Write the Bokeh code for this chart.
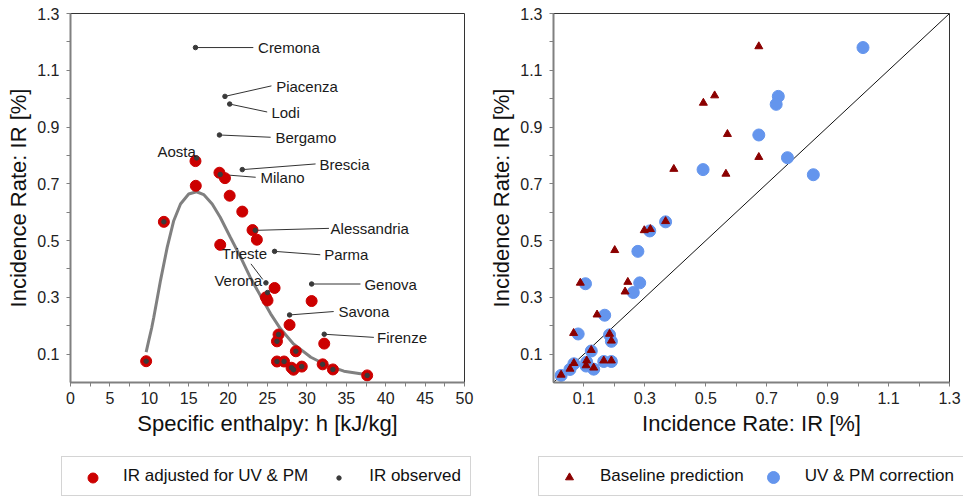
from bokeh.plotting import figure
from bokeh.models import FixedTicker, Legend, LegendItem, Range1d
from bokeh.layouts import row, column
from bokeh.embed import file_html
from bokeh.resources import INLINE
from bokeh.core.properties import value

FONT = "Liberation Sans"

# ---------------- Left panel data ----------------
adj_h = [15.86, 18.9, 19.6, 15.9, 20.2, 21.8, 11.85, 23.1, 23.65, 19.0, 25.9, 24.8, 25.0,
         30.6, 27.8, 32.2, 26.4, 26.2, 28.6, 26.2, 27.1, 28.05, 28.3, 29.35, 32.0, 33.3,
         37.65, 9.6]
adj_ir = [0.780, 0.739, 0.720, 0.693, 0.658, 0.602, 0.566, 0.537, 0.503, 0.485, 0.333, 0.300,
          0.289, 0.287, 0.203, 0.137, 0.169, 0.145, 0.110, 0.074, 0.074, 0.052, 0.045, 0.056,
          0.064, 0.046, 0.025, 0.075]

obs_h = [15.86, 19.6, 20.2, 18.9, 16.0, 21.8, 19.0, 23.45, 25.9, 24.8, 25.0, 30.6, 27.8, 32.2,
         11.85, 26.4, 26.2, 28.6, 26.2, 27.1, 28.05, 28.3, 29.35, 32.0, 33.3, 37.65, 9.6]
obs_ir = [1.180, 1.008, 0.981, 0.872, 0.791, 0.750, 0.733, 0.536, 0.462, 0.351, 0.317, 0.347,
          0.238, 0.170, 0.566, 0.169, 0.145, 0.110, 0.074, 0.074, 0.052, 0.045, 0.056, 0.064,
          0.046, 0.025, 0.075]

fit_h = [9.6, 9.95, 10.3, 10.57, 11.0, 11.42, 12.27, 13.1, 13.96, 15.0, 16.0, 16.9, 17.98,
         19.0, 20.3, 21.6, 22.8, 24.1, 25.4, 26.65, 28.3, 30.5, 32.6, 34.7, 37.65]
fit_ir = [0.107, 0.150, 0.192, 0.230, 0.295, 0.359, 0.476, 0.570, 0.629, 0.664, 0.672, 0.662,
          0.629, 0.582, 0.511, 0.441, 0.371, 0.306, 0.242, 0.189, 0.136, 0.089, 0.060, 0.040,
          0.027]

# city labels (text starts right of the leader line end)
city_names = ["Cremona", "Piacenza", "Lodi", "Bergamo", "Brescia", "Milano", "Alessandria",
              "Parma", "Genova", "Savona", "Firenze"]
city_dot_h = [15.86, 19.6, 20.2, 18.9, 21.8, 19.0, 23.45, 25.9, 30.6, 27.8, 32.2]
city_dot_ir = [1.180, 1.008, 0.981, 0.872, 0.750, 0.733, 0.536, 0.462, 0.347, 0.238, 0.170]
city_end_h = [23.2, 25.5, 24.96, 25.4, 31.1, 23.5, 32.8, 31.7, 36.8, 33.4, 38.5]
city_end_ir = [1.180, 1.045, 0.953, 0.864, 0.770, 0.723, 0.543, 0.450, 0.347, 0.250, 0.159]
city_text_h = [23.8, 26.1, 25.5, 26.0, 31.6, 24.1, 33.0, 32.2, 37.3, 34.0, 38.9]
city_text_ir = [1.180, 1.043, 0.950, 0.862, 0.767, 0.722, 0.543, 0.450, 0.347, 0.250, 0.159]

# labels placed to the left of their points (right-aligned)
rcity_names = ["Aosta", "Verona"]
rcity_text_h = [15.9, 24.3]
rcity_text_ir = [0.813, 0.359]
ltext_names = ["Trieste"]
ltext_h = [19.2]
ltext_ir = [0.453]
trieste_line_h = [22.9, 24.4]
trieste_line_ir = [0.418, 0.363]

# ---------------- Right panel data ----------------
base_x = [0.674, 0.492, 0.529, 0.571, 0.674, 0.395, 0.566, 0.368, 0.318, 0.298, 0.201, 0.244,
          0.235, 0.088, 0.143, 0.066, 0.184, 0.190, 0.124, 0.109, 0.107, 0.132, 0.165, 0.190,
          0.067, 0.054, 0.025]
base_y = [1.184, 0.985, 1.011, 0.875, 0.794, 0.752, 0.735, 0.568, 0.540, 0.536, 0.466, 0.354,
          0.320, 0.351, 0.239, 0.174, 0.171, 0.147, 0.114, 0.077, 0.060, 0.052, 0.077, 0.077,
          0.068, 0.048, 0.027]
corr_x = [1.016, 0.738, 0.731, 0.674, 0.768, 0.491, 0.853, 0.368, 0.316, 0.277, 0.283, 0.262,
          0.105, 0.168, 0.081, 0.184, 0.190, 0.124, 0.109, 0.107, 0.132, 0.165, 0.190, 0.067,
          0.054, 0.025]
corr_y = [1.180, 1.008, 0.980, 0.872, 0.792, 0.750, 0.732, 0.566, 0.534, 0.462, 0.351, 0.317,
          0.348, 0.237, 0.171, 0.168, 0.145, 0.111, 0.072, 0.058, 0.047, 0.074, 0.074, 0.066,
          0.046, 0.025]
diag = [0.0, 1.3]

ir_ticks = [0.1, 0.3, 0.5, 0.7, 0.9, 1.1, 1.3]
ir_minor = [0.2, 0.4, 0.6, 0.8, 1.0, 1.2]
h_ticks = [0, 5, 10, 15, 20, 25, 30, 35, 40, 45, 50]
h_minor = [2.5, 7.5, 12.5, 17.5, 22.5, 27.5, 32.5, 37.5, 42.5, 47.5]

RED = "#CC0000"
DARK = "#3a3a3a"
BLUE = "#6495ED"
TRI = "#8B0000"


def style(p):
    p.grid.visible = False
    p.outline_line_color = "#333333"
    p.outline_line_width = 1
    for ax in p.axis:
        ax.axis_line_color = "#808080"
        ax.axis_line_width = 2
        ax.major_tick_line_color = "#808080"
        ax.minor_tick_line_color = "#808080"
        ax.major_tick_line_width = 1
        ax.minor_tick_line_width = 1
        ax.major_tick_out = 4
        ax.major_tick_in = 0
        ax.minor_tick_out = 4
        ax.minor_tick_in = 0
        ax.major_label_text_font = FONT
        ax.major_label_text_font_size = "16px"
        ax.major_label_text_color = "#222222"
        ax.axis_label_text_font = FONT
        ax.axis_label_text_font_size = "22px"
        ax.axis_label_text_font_style = "normal"
        ax.axis_label_text_color = "#111111"
    p.yaxis.major_label_standoff = 7
    p.yaxis.axis_label_standoff = 3
    p.xaxis.major_label_standoff = 5
    p.xaxis.axis_label_standoff = 4
    p.yaxis.ticker = FixedTicker(ticks=ir_ticks, minor_ticks=ir_minor)


LEG_H = 51


def legend_fig(width, items_spec, xloc):
    """items_spec: (label, marker kwargs, swatch centre x in px, marker size)."""
    lf = figure(width=width, height=LEG_H, output_backend="svg", toolbar_location=None,
                x_range=Range1d(0, 1), y_range=Range1d(0, 1),
                x_axis_type=None, y_axis_type=None, min_border=0,
                min_border_left=0, min_border_right=0, min_border_top=0, min_border_bottom=0)
    lf.outline_line_color = None
    lf.grid.visible = False
    # frame legend: text and box, with invisible swatches
    items = []
    for label, kw, cx, size in items_spec:
        r = lf.scatter([-5], [-5], fill_alpha=0, line_alpha=0, **kw)
        items.append(LegendItem(label=label, renderers=[r]))
    leg = Legend(items=items, orientation="horizontal", location=(xloc, 0),
                 glyph_width=44, glyph_height=20, label_standoff=8, spacing=9,
                 padding=9, margin=0, border_line_color="#aaaaaa", border_line_width=1.5,
                 label_text_font=FONT, label_text_font_size="17px",
                 label_text_color="#111111", background_fill_color="white",
                 background_fill_alpha=1.0)
    lf.add_layout(leg)
    # swatch legends: one per item so that each swatch keeps its own size
    cy = 19  # swatch centre, px above canvas bottom
    for label, kw, cx, size in items_spec:
        g = size / 0.4
        r = lf.scatter([-5], [-5], **kw)
        sw = Legend(items=[LegendItem(label=" ", renderers=[r])], orientation="horizontal",
                    location=(cx - g / 2, cy - g / 2), glyph_width=int(round(g)),
                    glyph_height=int(round(g)), label_standoff=0, padding=0, margin=0,
                    spacing=0, border_line_color=None, background_fill_alpha=0,
                    label_text_font_size="1px", label_height=1, label_width=1)
        lf.add_layout(sw)
    return lf


# ---------------- Left figure ----------------
p1 = figure(width=480, height=445, output_backend="svg", toolbar_location=None,
            x_range=Range1d(0, 50), y_range=Range1d(0, 1.3),
            min_border_left=70, min_border_right=16, min_border_top=13, min_border_bottom=63,
            x_axis_label="Specific enthalpy: h [kJ/kg]", y_axis_label="Incidence Rate: IR [%]")
style(p1)
p1.xaxis.ticker = FixedTicker(ticks=h_ticks, minor_ticks=h_minor)

p1.line(fit_h, fit_ir, line_color="#808080", line_width=3)
p1.segment(x0=city_dot_h, y0=city_dot_ir, x1=city_end_h, y1=city_end_ir,
           line_color="#333333", line_width=1)
p1.line(trieste_line_h, trieste_line_ir, line_color="#333333", line_width=1)
p1.scatter(adj_h, adj_ir, marker="circle", size=11, fill_color=RED, line_color=RED)
p1.scatter(obs_h, obs_ir, marker="circle", size=4.5, fill_color=DARK, line_color=DARK)

p1.text(x=city_text_h, y=city_text_ir, text=city_names, text_font=value(FONT),
        text_font_size=value("15px"), text_align="left", text_baseline="middle",
        text_color="#1a1a1a")
p1.text(x=rcity_text_h, y=rcity_text_ir, text=rcity_names, text_font=value(FONT),
        text_font_size=value("15px"), text_align="right", text_baseline="middle",
        text_color="#1a1a1a")
p1.text(x=ltext_h, y=ltext_ir, text=ltext_names, text_font=value(FONT),
        text_font_size=value("15px"), text_align="left", text_baseline="middle",
        text_color="#1a1a1a")

# ---------------- Right figure ----------------
p2 = figure(width=483, height=445, output_backend="svg", toolbar_location=None,
            x_range=Range1d(0, 1.3), y_range=Range1d(0, 1.3),
            min_border_left=73, min_border_right=14, min_border_top=13, min_border_bottom=63,
            x_axis_label="Incidence Rate: IR [%]", y_axis_label="Incidence Rate: IR [%]")
style(p2)
p2.xaxis.ticker = FixedTicker(ticks=ir_ticks, minor_ticks=ir_minor)

p2.line(diag, diag, line_color="#111111", line_width=1)
p2.scatter(corr_x, corr_y, marker="circle", size=12, fill_color=BLUE, line_color=BLUE)
p2.scatter(base_x, base_y, marker="triangle", size=8, fill_color=TRI, line_color=TRI)

# ---------------- Legends ----------------
l1 = legend_fig(480, [
    ("IR adjusted for UV & PM", dict(marker="circle", fill_color=RED, line_color=RED), 92, 10),
    ("IR observed", dict(marker="circle", fill_color=DARK, line_color=DARK), 338, 4.4),
], 61)
l2 = legend_fig(483, [
    ("Baseline prediction", dict(marker="triangle", fill_color=TRI, line_color=TRI), 89, 8),
    ("UV & PM correction", dict(marker="circle", fill_color=BLUE, line_color=BLUE), 293, 12),
], 58)

layout = column(row(p1, p2), row(l1, l2))
open("out.html", "w").write(file_html(layout, INLINE))
